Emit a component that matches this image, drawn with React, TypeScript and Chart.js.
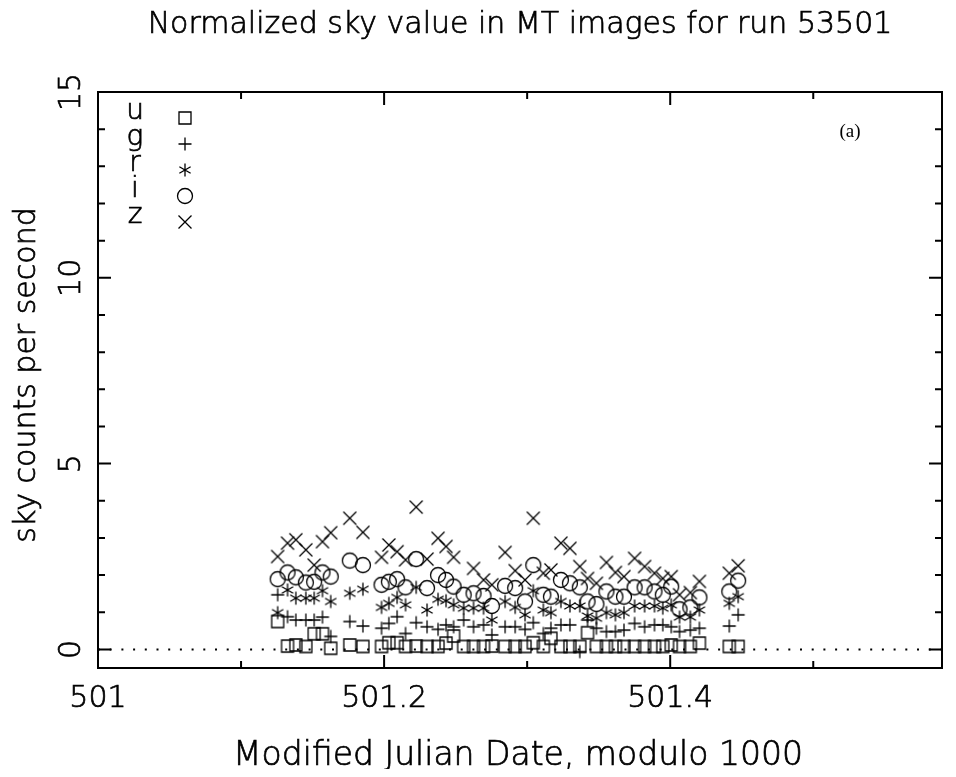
import React, { useEffect, useRef } from "react";
import { Chart, registerables } from "chart.js";

Chart.register(...registerables);

const chartTitle = "Normalized sky value in MT images for run 53501";
const xAxisTitle = "Modified Julian Date, modulo 1000";
const yAxisTitle = "sky counts per second";
const panelLabel = "(a)";

const xTickLabels = [501, 501.2, 501.4];
const xMinorTicks = [501.1, 501.3, 501.5];
const yTickLabels = [0, 5, 10, 15];
const xRange = [501, 501.59];
const yRange = [-0.5, 15];

const bandNames = ["u", "g", "r", "i", "z"];

const mjdTimes = [
  501.1256, 501.1325, 501.1383, 501.1453, 501.1511, 501.1569, 501.1627, 501.176,
  501.1852, 501.1982, 501.2033, 501.2091, 501.215, 501.2224, 501.23, 501.2377,
  501.2433, 501.2486, 501.2556, 501.2625, 501.2695, 501.2753, 501.2846, 501.2916,
  501.2985, 501.3043, 501.3113, 501.3166, 501.3236, 501.3299, 501.3368, 501.3422,
  501.3484, 501.3554, 501.3617, 501.3677, 501.3751, 501.3821, 501.389, 501.3948,
  501.4007, 501.4065, 501.4141, 501.4204, 501.4413, 501.4475,
];

const uSky = [
  0.75, 0.09, 0.12, 0.08, 0.42, 0.42, 0.03, 0.12, 0.08, 0.08, 0.18, 0.18, 0.08, 0.09,
  0.08, 0.08, 0.17, 0.36, 0.08, 0.08, 0.08, 0.09, 0.08, 0.08, 0.08, 0.18, 0.08, 0.3,
  0.08, 0.08, 0.08, 0.45, 0.08, 0.08, 0.08, 0.08, 0.08, 0.08, 0.08, 0.08, 0.12, 0.08,
  0.08, 0.17, 0.08, 0.08,
];
const gSky = [
  1.47, 0.88, 0.79, 0.79, 0.79, 0.87, 0.35, 0.75, 0.63, 0.57, 0.7, 0.88, 0.43, 0.72,
  0.61, 0.54, 0.66, 0.61, 0.79, 0.61, 0.66, 0.39, 0.61, 0.61, 0.54, 0.72, 0.43, 0.57,
  0.66, 0.66, -0.06, 0.79, 0.57, 0.48, 0.48, 0.52, 0.7, 0.61, 0.66, 0.66, 0.61, 0.48,
  0.52, 0.57, 0.63, 0.93,
];
const rSky = [
  0.99, 1.6, 1.38, 1.38, 1.38, 1.58, 1.29, 1.51, 1.62, 1.13, 1.24, 1.4, 1.2, 1.67,
  1.06, 1.35, 1.31, 1.2, 1.11, 1.11, 1.11, 0.79, 1.29, 1.13, 0.93, 1.58, 1.06, 0.99,
  1.29, 1.17, 1.17, 0.9, 0.84, 0.99, 0.93, 0.99, 1.17, 1.17, 1.17, 1.11, 1.2, 0.87,
  0.87, 1.06, 1.24, 1.42,
];
const iSky = [
  1.89, 2.07, 1.94, 1.8, 1.82, 2.07, 1.96, 2.39, 2.27, 1.74, 1.82, 1.89, 1.67, 2.43,
  1.65, 2.0, 1.87, 1.69, 1.47, 1.51, 1.44, 1.17, 1.71, 1.65, 1.29, 2.27, 1.47, 1.42,
  1.87, 1.78, 1.67, 1.29, 1.22, 1.56, 1.42, 1.42, 1.67, 1.67, 1.56, 1.47, 1.69, 1.08,
  1.13, 1.4, 1.56, 1.85,
];
const zSky = [
  2.5, 2.86, 2.95, 2.68, 2.27, 2.9, 3.14, 3.53, 3.15, 2.48, 2.81, 2.63, 2.41, 3.83,
  2.43, 2.99, 2.77, 2.48, null, 2.18, 1.87, 1.74, 2.61, 2.12, 1.87, 3.53, 2.05, 2.14,
  2.86, 2.72, 2.23, 1.91, 1.78, 2.34, 2.07, 1.96, 2.45, 2.23, 2.05, 1.91, 1.96, 1.47,
  1.53, 1.83, 2.05, 2.25,
];

const bandValues = [uSky, gSky, rSky, iSky, zSky];
const bandSymbols = ["square", "plus", "asterisk", "circle", "cross"];

const FONT = '"DejaVu Sans"';

function makeSymbol(kind: string): HTMLCanvasElement {
  const c = document.createElement("canvas");
  c.width = 20;
  c.height = 20;
  const g = c.getContext("2d")!;
  g.strokeStyle = "#000";
  g.lineWidth = 1.3;
  g.beginPath();
  if (kind === "square") {
    g.rect(4, 4, 12, 12);
  } else if (kind === "plus") {
    g.moveTo(3.5, 10);
    g.lineTo(16.5, 10);
    g.moveTo(10, 3.5);
    g.lineTo(10, 16.5);
  } else if (kind === "asterisk") {
    const r = 6.5;
    for (let k = 0; k < 3; k++) {
      const a = Math.PI / 2 + (k * Math.PI) / 3;
      g.moveTo(10 + r * Math.cos(a), 10 + r * Math.sin(a));
      g.lineTo(10 - r * Math.cos(a), 10 - r * Math.sin(a));
    }
  } else if (kind === "circle") {
    g.arc(10, 10, 7.5, 0, Math.PI * 2);
  } else if (kind === "cross") {
    g.moveTo(3.5, 3.5);
    g.lineTo(16.5, 16.5);
    g.moveTo(16.5, 3.5);
    g.lineTo(3.5, 16.5);
  }
  g.stroke();
  return c;
}

function drawText(ctx: CanvasRenderingContext2D, text: string, x: number, y: number) {
  ctx.fillText(text, x, y);
  ctx.strokeText(text, x, y);
}

export default function App() {
  const ref = useRef<HTMLCanvasElement | null>(null);

  useEffect(() => {
    if (!ref.current) return;
    const symbols = bandSymbols.map(makeSymbol);

    const datasets = bandNames.map((name, b) => ({
      label: name,
      data: mjdTimes
        .map((t, i) => ({ x: t, y: bandValues[b][i] }))
        .filter((p) => p.y !== null && p.y !== undefined),
      pointStyle: symbols[b],
      pointRadius: 5,
      showLine: false,
    }));

    const decor = {
      id: "decor",
      beforeDatasetsDraw(chart: any) {
        const ctx = chart.ctx;
        const { left, right } = chart.chartArea;
        const y0 = chart.scales.y.getPixelForValue(0);
        ctx.save();
        ctx.strokeStyle = "#000";
        ctx.lineWidth = 2;
        ctx.setLineDash([2, 9.7]);
        ctx.beginPath();
        ctx.moveTo(left, y0);
        ctx.lineTo(right, y0);
        ctx.stroke();
        ctx.restore();
      },
      afterDraw(chart: any) {
        const ctx = chart.ctx;
        const xs = chart.scales.x;
        const ys = chart.scales.y;
        const { left, right, top, bottom } = chart.chartArea;
        ctx.save();
        ctx.strokeStyle = "#000";
        ctx.fillStyle = "#000";
        // frame
        ctx.lineWidth = 2;
        ctx.strokeRect(left, top, right - left, bottom - top);
        // ticks
        ctx.lineWidth = 2;
        ctx.beginPath();
        const xTick = (v: number, len: number) => {
          const px = xs.getPixelForValue(v);
          ctx.moveTo(px, bottom);
          ctx.lineTo(px, bottom - len);
          ctx.moveTo(px, top);
          ctx.lineTo(px, top + len);
        };
        xTickLabels.forEach((v) => xTick(v, 13));
        xMinorTicks.forEach((v) => xTick(v, 7));
        for (let v = 0; v <= 15; v++) {
          const py = ys.getPixelForValue(v);
          const len = v % 5 === 0 ? 13 : 7;
          ctx.moveTo(left, py);
          ctx.lineTo(left + len, py);
          ctx.moveTo(right, py);
          ctx.lineTo(right - len, py);
        }
        ctx.stroke();

        // tick labels
        ctx.lineWidth = 0.7;
        ctx.font = `200 30px ${FONT}`;
        ctx.textAlign = "center";
        ctx.textBaseline = "alphabetic";
        xTickLabels.forEach((v) => {
          drawText(ctx, String(v), xs.getPixelForValue(v), bottom + 39);
        });
        yTickLabels.forEach((v) => {
          ctx.save();
          ctx.translate(left - 18, ys.getPixelForValue(v));
          ctx.rotate(-Math.PI / 2);
          drawText(ctx, String(v), 0, 0);
          ctx.restore();
        });

        // y axis title
        ctx.save();
        ctx.translate(27, 367);
        ctx.rotate(-Math.PI / 2);
        drawText(ctx, yAxisTitle, 0, 0);
        ctx.restore();

        // title
        drawText(ctx, chartTitle, (left + right) / 2, 25);

        // x axis title
        ctx.font = `200 33px ${FONT}`;
        drawText(ctx, xAxisTitle, 510, bottom + 97);

        // legend
        ctx.font = `200 28px ${FONT}`;
        bandNames.forEach((name, b) => {
          const yb = top + 27 + b * 26;
          drawText(ctx, name, left + 37, yb);
          const s = symbols[b];
          ctx.drawImage(s, left + 87 - s.width / 2, yb - 1 - s.height / 2);
        });

        // panel label
        ctx.font = `19px "Liberation Serif"`;
        ctx.textBaseline = "middle";
        ctx.fillText(panelLabel, 842, top + 40);
        ctx.restore();
      },
    };

    const chart = new Chart(ref.current, {
      type: "scatter",
      data: { datasets },
      options: {
        animation: false,
        responsive: false,
        devicePixelRatio: 1,
        layout: { padding: { left: 90, right: 2, top: 84, bottom: 101 } },
        plugins: { legend: { display: false }, tooltip: { enabled: false }, title: { display: false } },
        scales: {
          x: { type: "linear", min: xRange[0], max: xRange[1], display: false },
          y: { type: "linear", min: yRange[0], max: yRange[1], display: false },
        },
      },
      plugins: [decor],
    } as any);
    return () => chart.destroy();
  }, []);

  return (
    <div style={{ width: 940, height: 761 }}>
      <canvas ref={ref} width={940} height={761} style={{ display: "block" }} />
    </div>
  );
}
